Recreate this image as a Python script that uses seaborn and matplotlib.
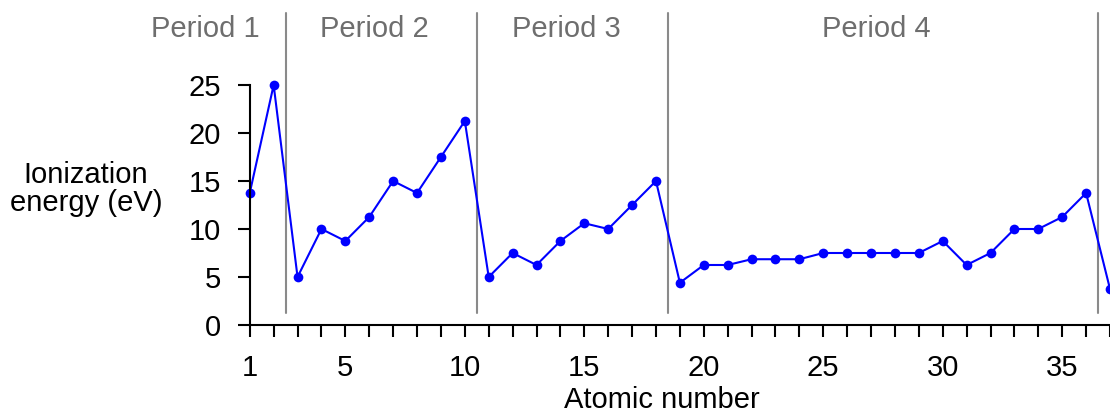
import numpy as np
import pandas as pd
import seaborn as sns
from matplotlib import pyplot as plt

# ionization energy of the first 37 elements
atomic_number = list(range(1, 38))
energy_ev = [13.75, 25.0,
             5.0, 10.0, 8.75, 11.25, 15.0, 13.75, 17.5, 21.25,
             5.0, 7.5, 6.25, 8.75, 10.6, 10.0, 12.5, 15.0,
             4.4, 6.25, 6.25, 6.85, 6.85, 6.85, 7.5, 7.5, 7.5, 7.5, 7.5,
             8.75, 6.25, 7.5, 10.0, 10.0, 11.25, 13.75,
             3.75]
period_names = ['Period 1', 'Period 2', 'Period 3', 'Period 4']
period_ends = [2.5, 10.5, 18.5, 36.5]
period_label_x = [-0.85, 6.22, 14.25, 27.2]
ytick_values = [0, 5, 10, 15, 20, 25]
xtick_labeled = [1, 5, 10, 15, 20, 25, 30, 35]

df = pd.DataFrame({'Z': atomic_number, 'IE': energy_ev})

sns.set_style('ticks')
plt.rcParams['font.family'] = ['Liberation Sans', 'DejaVu Sans']
plt.rcParams['text.color'] = 'black'
plt.rcParams['axes.labelcolor'] = 'black'

fig = plt.figure(figsize=(11.1, 4.12), dpi=100)
ax = fig.add_axes([0.2250, 0.2112, 0.7750, 0.7572])

sns.lineplot(data=df, x='Z', y='IE', ax=ax, color='#0000ff', lw=1.5,
             marker='o', markersize=7, markeredgewidth=0, clip_on=False)

ax.set_xlim(1, 36.85)
ax.set_ylim(0, 32.5)

# period dividers and labels
for x_end in period_ends:
    ax.plot([x_end, x_end], [1.25, 32.5], color='#8a8a8a', lw=1.5,
            clip_on=False, zorder=1)
for name, lx in zip(period_names, period_label_x):
    ax.text(lx, 30, name, ha='center', va='baseline', fontsize=21,
            color='#6e6e6e')

ticks = list(range(1, 38))
ax.set_xticks(ticks)
ax.set_xticklabels([str(t) if t in xtick_labeled else '' for t in ticks])
ax.set_yticks(ytick_values)
ax.tick_params(axis='both', length=8.6, width=1.5, pad=12,
               labelsize=21, color='black', labelcolor='black')

sns.despine(ax=ax)
ax.spines['left'].set_bounds(0, 25)
for s in ('left', 'bottom'):
    ax.spines[s].set_linewidth(1.5)
    ax.spines[s].set_color('black')

ax.set_xlabel('Atomic number', fontsize=21, va='baseline')
ax.xaxis.set_label_coords(0.4787, -0.266)
ax.set_ylabel('Ionization\nenergy (eV)', fontsize=21, rotation=0,
              ha='center', va='baseline', linespacing=1.0)
ax.yaxis.set_label_coords(-0.1905, 0.365)

fig.savefig('out.png', dpi=100)
